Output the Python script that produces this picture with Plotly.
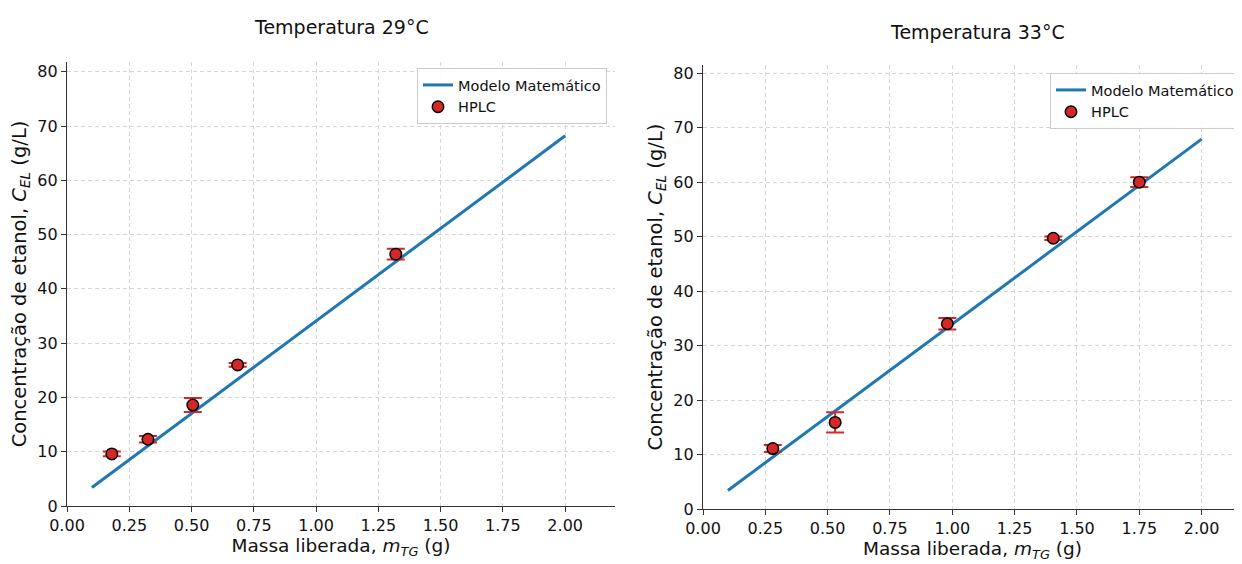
import plotly.graph_objects as go

# ---- data ----
model_x = [0.1, 2.0]
model_y_29 = [3.4, 68.2]
model_y_33 = [3.4, 67.9]

hplc_x_29 = [0.18, 0.325, 0.505, 0.685, 1.32]
hplc_y_29 = [9.6, 12.3, 18.6, 26.0, 46.4]
hplc_e_29 = [0.45, 0.6, 1.3, 0.35, 1.0]

hplc_x_33 = [0.28, 0.53, 0.98, 1.405, 1.75]
hplc_y_33 = [11.1, 15.9, 34.0, 49.7, 60.0]
hplc_e_33 = [0.65, 1.85, 1.05, 0.3, 0.9]

titles = ["Temperatura 29°C", "Temperatura 33°C"]
x_ticks = [0, 0.25, 0.5, 0.75, 1.0, 1.25, 1.5, 1.75, 2.0]
y_ticks = [0, 10, 20, 30, 40, 50, 60, 70, 80]

BLUE = "#1f77b4"
RED = "#d62728"
FONT = "DejaVu Sans"

# page body adds an 8px margin; figure sized to fit the window
W, H, OFF = 1234, 556, 8


def fx(px):
    return (px - OFF) / W


def fy(py):
    return 1 - (py - OFF) / H


fig = go.Figure()

for i, (my, hx, hy, he) in enumerate([
    (model_y_29, hplc_x_29, hplc_y_29, hplc_e_29),
    (model_y_33, hplc_x_33, hplc_y_33, hplc_e_33),
]):
    xa = "x" if i == 0 else "x2"
    ya = "y" if i == 0 else "y2"
    lg = "legend" if i == 0 else "legend2"
    fig.add_trace(go.Scatter(
        x=model_x, y=my, mode="lines", name="Modelo Matemático",
        line=dict(color=BLUE, width=3), xaxis=xa, yaxis=ya, legend=lg,
    ))
    fig.add_trace(go.Scatter(
        x=hx, y=hy, mode="markers", name="HPLC",
        marker=dict(color=RED, size=11.5, line=dict(color="black", width=1.5)),
        error_y=dict(type="data", array=he, visible=True, color=RED,
                     thickness=2, width=9),
        xaxis=xa, yaxis=ya, legend=lg,
    ))

axis_common = dict(
    showline=True, linecolor="#333333", linewidth=1.2,
    ticks="outside", ticklen=5, tickcolor="#333333",
    showgrid=True, gridcolor="#d6d6d6", griddash="4px,3px", gridwidth=1,
    zeroline=False, tickfont=dict(family=FONT, size=16, color="#111111"),
    mirror=False, automargin=False,
)

xlab = "Massa liberada, <i>m</i><sub><i>TG</i></sub> (g)"
ylab = "Concentração de etanol, <i>C</i><sub><i>EL</i></sub> (g/L)"
XT = dict(size=18.5, color="#111111")
YT = dict(size=19.5, color="#111111")

fig.update_layout(
    width=W, height=H,
    margin=dict(l=0, r=0, t=0, b=0, autoexpand=False),
    paper_bgcolor="white", plot_bgcolor="white",
    font=dict(family=FONT, color="#111111"),
    showlegend=True,
    xaxis=dict(domain=[fx(67), fx(615)], range=[0, 2.2], tickvals=x_ticks,
               tickformat=".2f", anchor="y",
               title=dict(text=xlab, font=XT, standoff=3),
               **axis_common),
    yaxis=dict(domain=[fy(506), fy(62)], range=[0, 81.8], tickvals=y_ticks,
               anchor="x",
               title=dict(text=ylab, font=YT, standoff=5),
               **axis_common),
    xaxis2=dict(domain=[fx(703), fx(1242)], range=[0, 2.162], tickvals=x_ticks,
                tickformat=".2f", anchor="y2",
                title=dict(text=xlab, font=XT, standoff=3),
                **axis_common),
    yaxis2=dict(domain=[fy(509), fy(65)], range=[0, 81.5], tickvals=y_ticks,
                anchor="x2",
                title=dict(text=ylab, font=YT, standoff=5),
                **axis_common),
    legend=dict(x=fx(607), y=fy(68), xanchor="right", yanchor="top",
                bgcolor="rgba(255,255,255,0.9)", bordercolor="#cccccc",
                borderwidth=1, font=dict(family=FONT, size=14.5)),
    legend2=dict(x=fx(1240), y=fy(73), xanchor="right", yanchor="top",
                 bgcolor="rgba(255,255,255,0.9)", bordercolor="#cccccc",
                 borderwidth=1, font=dict(family=FONT, size=14.5)),
    annotations=[
        dict(text=titles[0], x=fx(341), y=fy(27), xref="paper",
             yref="paper", showarrow=False, xanchor="center", yanchor="middle",
             font=dict(family=FONT, size=19)),
        dict(text=titles[1], x=fx(977), y=fy(32), xref="paper",
             yref="paper", showarrow=False, xanchor="center", yanchor="middle",
             font=dict(family=FONT, size=19)),
    ],
)

fig.write_html("out.html")
